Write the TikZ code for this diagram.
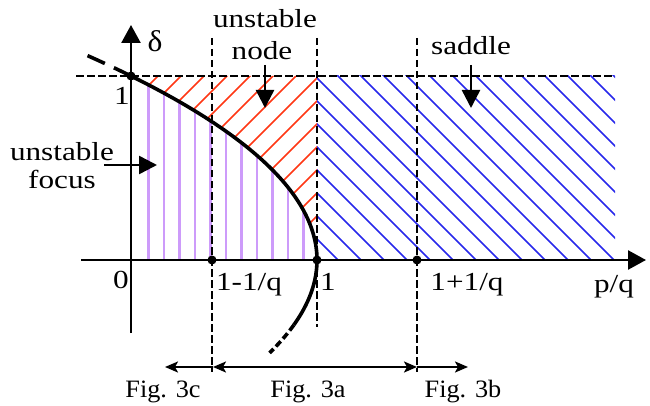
\documentclass[tikz,border=0pt]{standalone}
\usepackage{fontspec}
\setmainfont{Liberation Serif}[FakeStretch=1.2]
\newfontfamily\figfont{Liberation Serif}[FakeStretch=1.05]
\usetikzlibrary{arrows.meta}
\definecolor{purph}{RGB}{205,155,250}
\definecolor{redh}{RGB}{255,55,20}
\definecolor{blueh}{RGB}{40,40,235}
\tikzset{
  figtip/.tip={Stealth[length=13pt,width=11pt,inset=3pt]},
  lbl/.style={font=\fontsize{26}{30}\selectfont, anchor=base, inner sep=0pt},
  figlbl/.style={font=\figfont\fontsize{25}{29}\selectfont, anchor=base, inner sep=0pt},
  axisline/.style={line width=2.5pt, -{Triangle[length=18pt,width=19pt]}},
  guide/.style={line width=1.9pt, dash pattern=on 7.5pt off 3.5pt},
  curveline/.style={line width=3.6pt},
  pointer/.style={line width=2.5pt, -{Triangle[length=18pt,width=18pt]}},
  figarrow/.style={line width=2pt},
  dot/.style={circle, fill=black, inner sep=0pt, minimum size=9pt},
  purpline/.style={purph, line width=2.4pt},
  redline/.style={redh, line width=1.5pt},
  blueline/.style={blueh, line width=1.5pt},
}
\begin{document}
\begin{tikzpicture}[x=1pt,y=-1pt]
\useasboundingbox (0,0) rectangle (650,406);
% hatching
\begin{scope}
  \clip (131,260) -- plot[domain=1:0,samples=50,variable=\t] ({131+186*(1-\t*\t)},{260-184*\t}) -- cycle;
  \foreach \i in {0,...,10} \draw[purpline] ({148.3+15.5*\i},262) -- ({148.3+15.5*\i},70);
\end{scope}
\begin{scope}
  \clip plot[domain=1:0,samples=50,variable=\t] ({131+186*(1-\t*\t)},{260-184*\t}) -- (317,76) -- cycle;
  \foreach \k in {-9,...,8} \draw[redline] ({395+23*\k-270},270) -- ({395+23*\k-66},66);
\end{scope}
\begin{scope}
  \clip (317,76) rectangle (615,260);
  \foreach \k in {-9,...,14} \draw[blueline] ({239+23*\k+66},66) -- ({239+23*\k+270},270);
\end{scope}
% coordinates
\coordinate (hl) at (76,76);
\coordinate (hr) at (615,76);
\coordinate (va1) at (212,38);
\coordinate (vb1) at (212,372);
\coordinate (va2) at (317,38);
\coordinate (vb2) at (317,327);
\coordinate (va3) at (417,38);
\coordinate (vb3) at (417,372);
\coordinate (yb) at (131,333);
\coordinate (yt) at (131,25);
\coordinate (xl) at (81,260);
\coordinate (xr) at (646,260);
% guide lines
\draw[guide] (hl) -- (hr);
\draw[guide] (va1) -- (vb1);
\draw[guide] (va2) -- (vb2);
\draw[guide] (va3) -- (vb3);
% axes
\draw[axisline] (yb) -- (yt);
\draw[axisline] (xl) -- (xr);
% curve
\draw[curveline] plot[domain=-0.353:1,samples=80,variable=\t] ({131+186*(1-\t*\t)},{260-184*\t});
\draw[curveline, dash pattern=on 7pt off 3.5pt] plot[domain=-0.353:-0.505,samples=20,variable=\t] ({131+186*(1-\t*\t)},{260-184*\t});
\draw[curveline, dash pattern=on 19pt off 10pt] plot[domain=1:1.13,samples=20,variable=\t] ({131+186*(1-\t*\t)},{260-184*\t});
% dots
\node[dot] (d1) at (131,76) {};
\node[dot] (d2) at (212,260) {};
\node[dot] (d3) at (317,260) {};
\node[dot] (d4) at (417,260) {};
% labels
\node[figlbl, font=\figfont\fontsize{30}{32}\selectfont] (delta) at (155,52) {δ};
\node[lbl] (one) at (122,105) {1};
\node[lbl] (zero) at (121,288) {0};
\node[lbl] (omq) at (249,290) {1-1/q};
\node[lbl] (onex) at (328,290) {1};
\node[lbl] (opq) at (467,290) {1+1/q};
\node[lbl] (pq) at (614,292) {p/q};
\node[lbl] (un1) at (265,28) {unstable};
\node[lbl] (un2) at (262,60) {node};
\node[lbl] (sad) at (471,55) {saddle};
\node[lbl] (uf1) at (62,161) {unstable};
\node[lbl] (uf2) at (62,189) {focus};
% pointers
\coordinate (pn1) at (265,65);
\coordinate (pn2) at (265,108);
\coordinate (ps1) at (471,65);
\coordinate (ps2) at (471,108);
\coordinate (pf1) at (104,165);
\coordinate (pf2) at (157,165);
\draw[pointer] (pn1) -- (pn2);
\draw[pointer] (ps1) -- (ps2);
\draw[pointer] (pf1) -- (pf2);
% figure ranges
\coordinate (fa) at (165,367);
\coordinate (fb) at (213,367);
\coordinate (fc) at (417,367);
\coordinate (fd) at (468,367);
\draw[figarrow, -{figtip}] (fb) -- (fa);
\draw[figarrow, {figtip}-{figtip}] (fb) -- (fc);
\draw[figarrow, -{figtip}] (fc) -- (fd);
\node[figlbl] (f3c) at (163,397) {Fig. 3c};
\node[figlbl] (f3a) at (308,397) {Fig. 3a};
\node[figlbl] (f3b) at (463,397) {Fig. 3b};
\end{tikzpicture}
\end{document}
